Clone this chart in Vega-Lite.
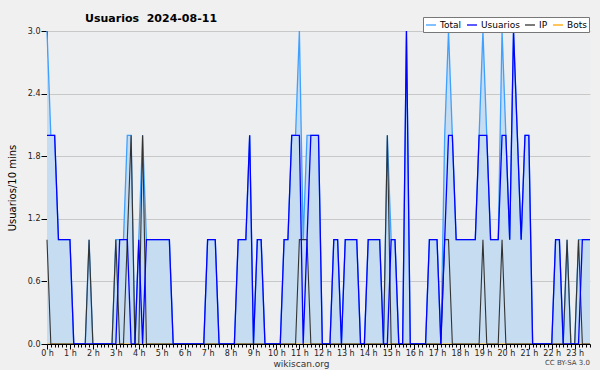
{
"$schema":"https://vega.github.io/schema/vega-lite/v6.json",
"width":543,"height":313,
"autosize":{"type":"none"},
"padding":{"left":47,"top":31,"right":10,"bottom":26},
"background":"#f0f0f0",
"config":{"view":{"fill":"#eceef0","stroke":null},"font":"DejaVu Sans"},
"title":{"text":"Usuarios\u00a0 2024-08-11","anchor":"start","frame":"group","dx":38,"dy":15,"offset":8,"fontSize":11,"fontWeight":"bold","font":"DejaVu Sans","color":"#000"},
"data":{"values":[
{"i":0,"u":2,"ip":1,"t":3,"b":0},{"i":1,"u":2,"ip":0,"t":2,"b":0},{"i":2,"u":2,"ip":0,"t":2,"b":0},{"i":3,"u":1,"ip":0,"t":1,"b":0},{"i":4,"u":1,"ip":0,"t":1,"b":0},{"i":5,"u":1,"ip":0,"t":1,"b":0},{"i":6,"u":1,"ip":0,"t":1,"b":0},{"i":7,"u":0,"ip":0,"t":0,"b":0},{"i":8,"u":0,"ip":0,"t":0,"b":0},{"i":9,"u":0,"ip":0,"t":0,"b":0},
{"i":10,"u":0,"ip":0,"t":0,"b":0},{"i":11,"u":0,"ip":1,"t":1,"b":0},{"i":12,"u":0,"ip":0,"t":0,"b":0},{"i":13,"u":0,"ip":0,"t":0,"b":0},{"i":14,"u":0,"ip":0,"t":0,"b":0},{"i":15,"u":0,"ip":0,"t":0,"b":0},{"i":16,"u":0,"ip":0,"t":0,"b":0},{"i":17,"u":0,"ip":0,"t":0,"b":0},{"i":18,"u":0,"ip":1,"t":1,"b":0},{"i":19,"u":1,"ip":0,"t":1,"b":0},
{"i":20,"u":1,"ip":0,"t":1,"b":0},{"i":21,"u":1,"ip":1,"t":2,"b":0},{"i":22,"u":0,"ip":2,"t":2,"b":0},{"i":23,"u":0,"ip":0,"t":0,"b":0},{"i":24,"u":1,"ip":0,"t":1,"b":0},{"i":25,"u":0,"ip":2,"t":2,"b":0},{"i":26,"u":1,"ip":0,"t":1,"b":0},{"i":27,"u":1,"ip":0,"t":1,"b":0},{"i":28,"u":1,"ip":0,"t":1,"b":0},{"i":29,"u":1,"ip":0,"t":1,"b":0},
{"i":30,"u":1,"ip":0,"t":1,"b":0},{"i":31,"u":1,"ip":0,"t":1,"b":0},{"i":32,"u":1,"ip":0,"t":1,"b":0},{"i":33,"u":0,"ip":0,"t":0,"b":0},{"i":34,"u":0,"ip":0,"t":0,"b":0},{"i":35,"u":0,"ip":0,"t":0,"b":0},{"i":36,"u":0,"ip":0,"t":0,"b":0},{"i":37,"u":0,"ip":0,"t":0,"b":0},{"i":38,"u":0,"ip":0,"t":0,"b":0},{"i":39,"u":0,"ip":0,"t":0,"b":0},
{"i":40,"u":0,"ip":0,"t":0,"b":0},{"i":41,"u":0,"ip":0,"t":0,"b":0},{"i":42,"u":1,"ip":0,"t":1,"b":0},{"i":43,"u":1,"ip":0,"t":1,"b":0},{"i":44,"u":1,"ip":0,"t":1,"b":0},{"i":45,"u":0,"ip":0,"t":0,"b":0},{"i":46,"u":0,"ip":0,"t":0,"b":0},{"i":47,"u":0,"ip":0,"t":0,"b":0},{"i":48,"u":0,"ip":0,"t":0,"b":0},{"i":49,"u":0,"ip":0,"t":0,"b":0},
{"i":50,"u":1,"ip":0,"t":1,"b":0},{"i":51,"u":1,"ip":0,"t":1,"b":0},{"i":52,"u":1,"ip":0,"t":1,"b":0},{"i":53,"u":2,"ip":0,"t":2,"b":0},{"i":54,"u":0,"ip":0,"t":0,"b":0},{"i":55,"u":1,"ip":0,"t":1,"b":0},{"i":56,"u":1,"ip":0,"t":1,"b":0},{"i":57,"u":0,"ip":0,"t":0,"b":0},{"i":58,"u":0,"ip":0,"t":0,"b":0},{"i":59,"u":0,"ip":0,"t":0,"b":0},
{"i":60,"u":0,"ip":0,"t":0,"b":0},{"i":61,"u":0,"ip":0,"t":0,"b":0},{"i":62,"u":1,"ip":0,"t":1,"b":0},{"i":63,"u":1,"ip":0,"t":1,"b":0},{"i":64,"u":2,"ip":0,"t":2,"b":0},{"i":65,"u":2,"ip":0,"t":2,"b":0},{"i":66,"u":2,"ip":1,"t":3,"b":0},{"i":67,"u":0,"ip":1,"t":1,"b":0},{"i":68,"u":1,"ip":1,"t":2,"b":0},{"i":69,"u":2,"ip":0,"t":2,"b":0},
{"i":70,"u":2,"ip":0,"t":2,"b":0},{"i":71,"u":2,"ip":0,"t":2,"b":0},{"i":72,"u":0,"ip":0,"t":0,"b":0},{"i":73,"u":0,"ip":0,"t":0,"b":0},{"i":74,"u":0,"ip":0,"t":0,"b":0},{"i":75,"u":1,"ip":0,"t":1,"b":0},{"i":76,"u":1,"ip":0,"t":1,"b":0},{"i":77,"u":0,"ip":0,"t":0,"b":0},{"i":78,"u":1,"ip":0,"t":1,"b":0},{"i":79,"u":1,"ip":0,"t":1,"b":0},
{"i":80,"u":1,"ip":0,"t":1,"b":0},{"i":81,"u":1,"ip":0,"t":1,"b":0},{"i":82,"u":0,"ip":0,"t":0,"b":0},{"i":83,"u":0,"ip":0,"t":0,"b":0},{"i":84,"u":1,"ip":0,"t":1,"b":0},{"i":85,"u":1,"ip":0,"t":1,"b":0},{"i":86,"u":1,"ip":0,"t":1,"b":0},{"i":87,"u":1,"ip":0,"t":1,"b":0},{"i":88,"u":0,"ip":0,"t":0,"b":0},{"i":89,"u":0,"ip":2,"t":2,"b":0},
{"i":90,"u":1,"ip":0,"t":1,"b":0},{"i":91,"u":1,"ip":0,"t":1,"b":0},{"i":92,"u":0,"ip":0,"t":0,"b":0},{"i":93,"u":0,"ip":0,"t":0,"b":0},{"i":94,"u":3,"ip":0,"t":3,"b":0},{"i":95,"u":0,"ip":0,"t":0,"b":0},{"i":96,"u":0,"ip":0,"t":0,"b":0},{"i":97,"u":0,"ip":0,"t":0,"b":0},{"i":98,"u":0,"ip":0,"t":0,"b":0},{"i":99,"u":0,"ip":0,"t":0,"b":0},
{"i":100,"u":1,"ip":0,"t":1,"b":0},{"i":101,"u":1,"ip":0,"t":1,"b":0},{"i":102,"u":1,"ip":0,"t":1,"b":0},{"i":103,"u":0,"ip":0,"t":0,"b":0},{"i":104,"u":1,"ip":1,"t":2,"b":0},{"i":105,"u":2,"ip":1,"t":3,"b":0},{"i":106,"u":2,"ip":0,"t":2,"b":0},{"i":107,"u":1,"ip":0,"t":1,"b":0},{"i":108,"u":1,"ip":0,"t":1,"b":0},{"i":109,"u":1,"ip":0,"t":1,"b":0},
{"i":110,"u":1,"ip":0,"t":1,"b":0},{"i":111,"u":1,"ip":0,"t":1,"b":0},{"i":112,"u":1,"ip":0,"t":1,"b":0},{"i":113,"u":2,"ip":0,"t":2,"b":0},{"i":114,"u":2,"ip":1,"t":3,"b":0},{"i":115,"u":2,"ip":0,"t":2,"b":0},{"i":116,"u":1,"ip":0,"t":1,"b":0},{"i":117,"u":1,"ip":0,"t":1,"b":0},{"i":118,"u":1,"ip":0,"t":1,"b":0},{"i":119,"u":2,"ip":1,"t":3,"b":0},
{"i":120,"u":2,"ip":0,"t":2,"b":0},{"i":121,"u":1,"ip":0,"t":1,"b":0},{"i":122,"u":3,"ip":0,"t":3,"b":0},{"i":123,"u":2,"ip":0,"t":2,"b":0},{"i":124,"u":1,"ip":0,"t":1,"b":0},{"i":125,"u":2,"ip":0,"t":2,"b":0},{"i":126,"u":2,"ip":0,"t":2,"b":0},{"i":127,"u":0,"ip":0,"t":0,"b":0},{"i":128,"u":0,"ip":0,"t":0,"b":0},{"i":129,"u":0,"ip":0,"t":0,"b":0},
{"i":130,"u":0,"ip":0,"t":0,"b":0},{"i":131,"u":0,"ip":0,"t":0,"b":0},{"i":132,"u":0,"ip":0,"t":0,"b":0},{"i":133,"u":1,"ip":0,"t":1,"b":0},{"i":134,"u":1,"ip":0,"t":1,"b":0},{"i":135,"u":0,"ip":0,"t":0,"b":0},{"i":136,"u":0,"ip":1,"t":1,"b":0},{"i":137,"u":0,"ip":0,"t":0,"b":0},{"i":138,"u":0,"ip":0,"t":0,"b":0},{"i":139,"u":0,"ip":1,"t":1,"b":0},
{"i":140,"u":1,"ip":0,"t":1,"b":0},{"i":141,"u":1,"ip":0,"t":1,"b":0},{"i":142,"u":1,"ip":0,"t":1,"b":0}
]},
"encoding":{"x":{"field":"i","type":"quantitative","scale":{"domain":[0,142],"nice":false,"zero":false},
 "axis":{"values":[0,1,2,3,4,5,6,7,8,9,10,11,12,13,14,15,16,17,18,19,20,21,22,23,24,25,26,27,28,29,30,31,32,33,34,35,36,37,38,39,40,41,42,43,44,45,46,47,48,49,50,51,52,53,54,55,56,57,58,59,60,61,62,63,64,65,66,67,68,69,70,71,72,73,74,75,76,77,78,79,80,81,82,83,84,85,86,87,88,89,90,91,92,93,94,95,96,97,98,99,100,101,102,103,104,105,106,107,108,109,110,111,112,113,114,115,116,117,118,119,120,121,122,123,124,125,126,127,128,129,130,131,132,133,134,135,136,137,138,139,140,141,142],
 "labelExpr":"datum.value % 6 == 0 ? (datum.value/6) + ' h' : ''",
 "tickSize":{"condition":{"test":"datum.value % 6 == 0","value":5},"value":3},
 "grid":false,"domainColor":"#000","tickColor":"#000","labelColor":"#222","labelFontSize":8,"labelPadding":0,"labelFlush":false,"labelOverlap":false,
 "title":"wikiscan.org","titleFontSize":9,"titleFontWeight":"normal","titleColor":"#333","titleX":254,"titleY":15,"zindex":1}}},
"layer":[
{"mark":{"type":"area","color":"#c6dcf0","opacity":1},
 "encoding":{"y":{"field":"t","type":"quantitative","scale":{"domain":[0,3],"nice":false},
  "axis":{"values":[0,0.15,0.3,0.45,0.6,0.75,0.9,1.05,1.2,1.35,1.5,1.65,1.8,1.95,2.1,2.25,2.4,2.55,2.7,2.85,3.0],
   "labelExpr":"abs(datum.value/0.6 - round(datum.value/0.6)) < 0.001 ? format(datum.value, '.1f') : ''",
   "tickSize":{"condition":{"test":"abs(datum.value/0.6 - round(datum.value/0.6)) < 0.001","value":6},"value":3},
   "gridOpacity":{"condition":{"test":"abs(datum.value/0.6 - round(datum.value/0.6)) < 0.001","value":1},"value":0},
   "gridColor":"#c8c8c8","domainColor":"#000","tickColor":"#000","labelColor":"#222","labelFontSize":8,"labelPadding":1,"labelOverlap":false,"labelFlush":false,
   "title":"Usuarios/10 mins","titleFontSize":10,"titleFontWeight":"normal","titleColor":"#000","titlePadding":10}}}},
{"mark":{"type":"line","strokeWidth":1.2},"encoding":{"y":{"field":"b","type":"quantitative","title":"Usuarios/10 mins"},"color":{"datum":"Bots"}}},
{"mark":{"type":"line","strokeWidth":1.3},"encoding":{"y":{"field":"t","type":"quantitative","title":"Usuarios/10 mins"},"color":{"datum":"Total"}}},
{"mark":{"type":"line","strokeWidth":1.1},"encoding":{"y":{"field":"ip","type":"quantitative","title":"Usuarios/10 mins"},"color":{"datum":"IP"}}},
{"mark":{"type":"line","strokeWidth":1.3},"encoding":{"y":{"field":"u","type":"quantitative","title":"Usuarios/10 mins"},
 "color":{"datum":"Usuarios","scale":{"domain":["Total","Usuarios","IP","Bots"],"range":["#3fa0ff","#0000ff","#333333","#ffa500"]},
  "legend":{"title":null,"orient":"none","legendX":376,"legendY":-14,"direction":"horizontal","symbolType":"stroke","symbolSize":100,"symbolStrokeWidth":1.3,"labelFontSize":9,"labelColor":"#000","labelOffset":3,"columnPadding":2,"padding":2,"fillColor":"#ffffff","strokeColor":"#777777"}}}},
{"transform":[{"filter":"datum.i == 142"}],
 "mark":{"type":"text","text":"CC BY-SA 3.0","align":"right","baseline":"middle","dy":19,"fontSize":7,"color":"#444"},
 "encoding":{"y":{"datum":0,"title":"Usuarios/10 mins"}}}
]
}
